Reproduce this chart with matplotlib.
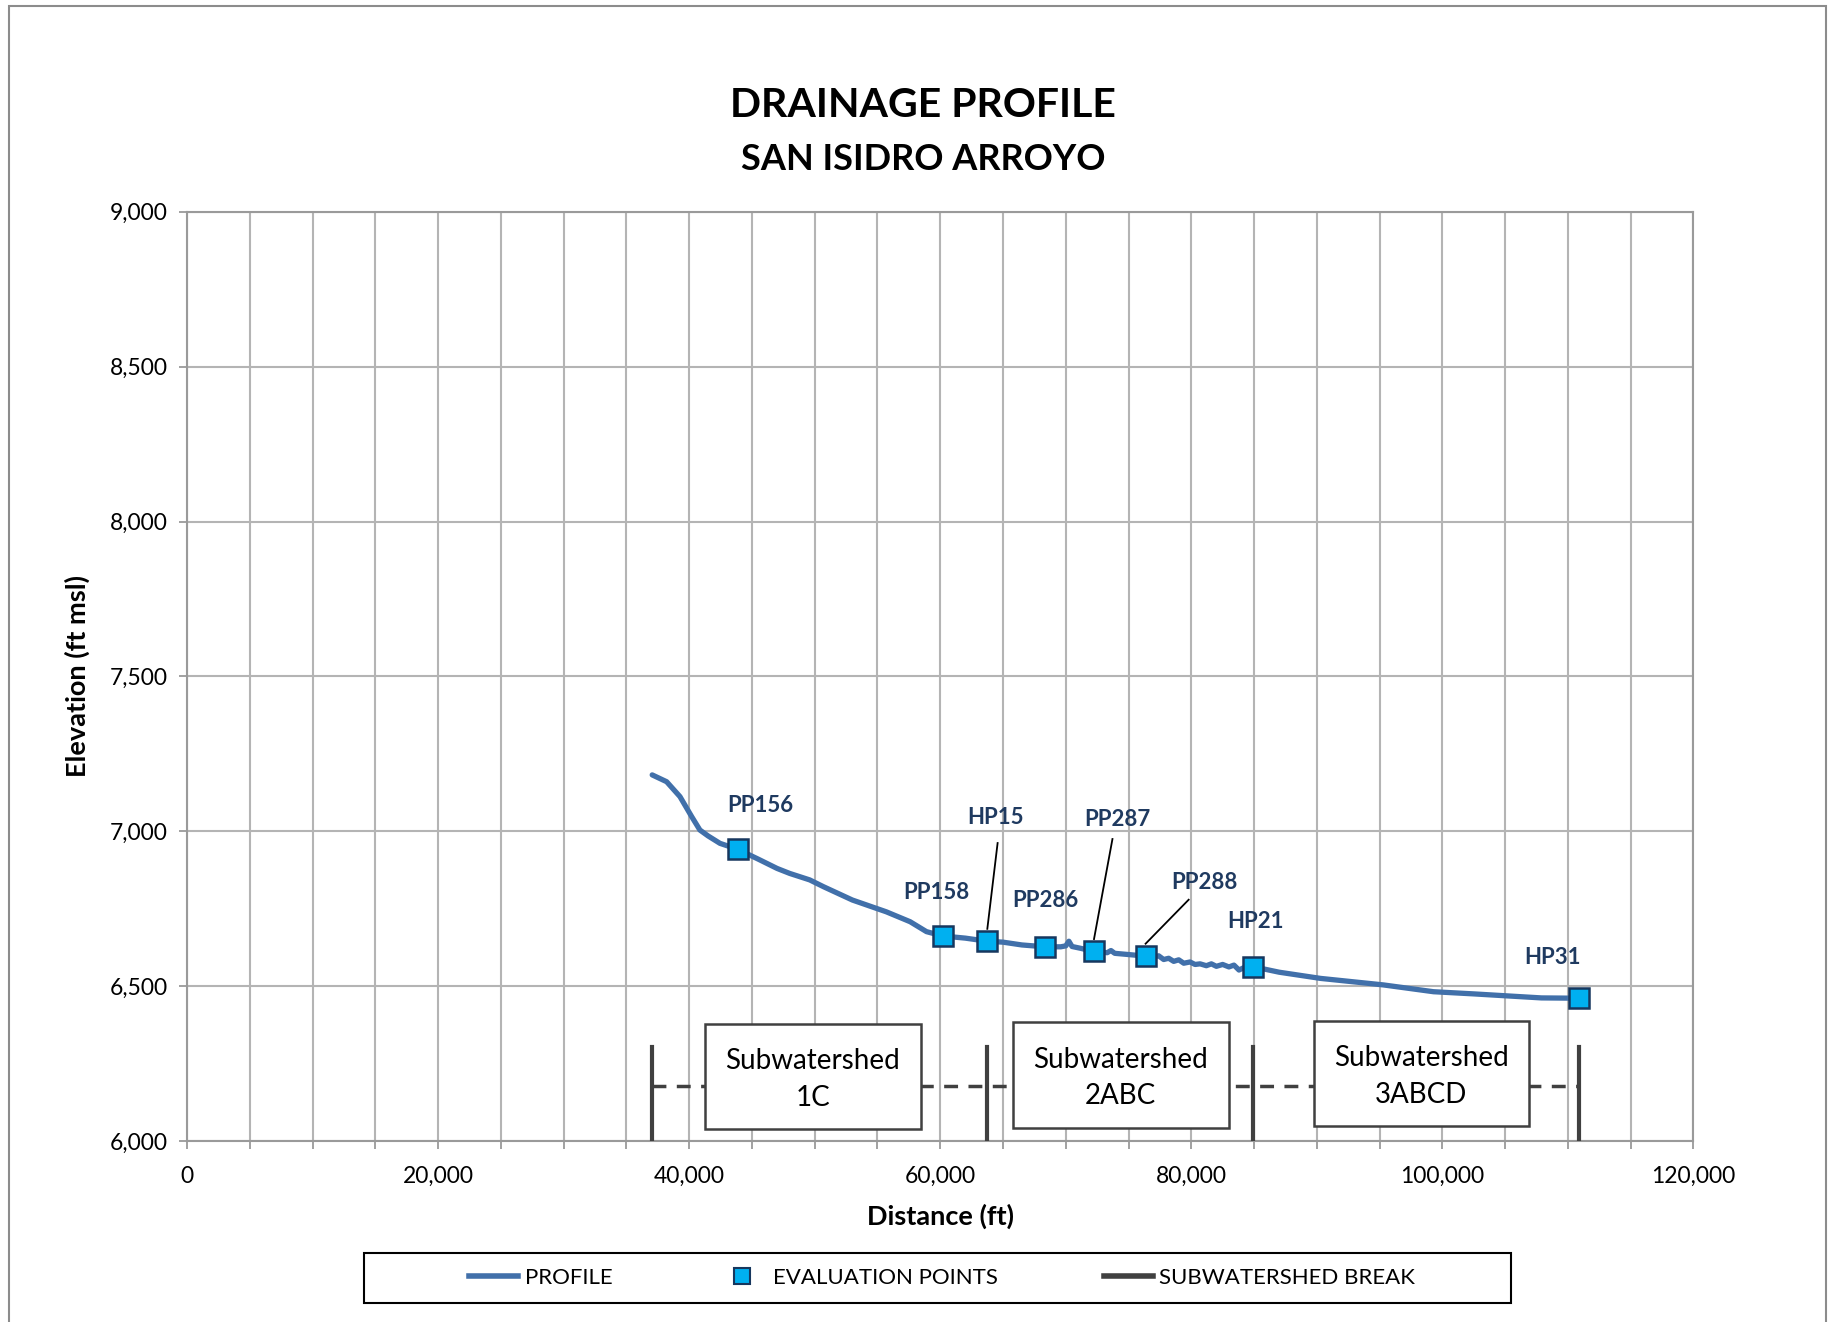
import matplotlib
matplotlib.use("Agg")
import matplotlib.pyplot as plt
from matplotlib.patches import Rectangle
from matplotlib.lines import Line2D
from matplotlib.ticker import MultipleLocator, FuncFormatter

plt.rcParams["font.family"] = ["Lato", "DejaVu Sans"]

# Stream profile (distance ft, elevation ft msl)
PROFILE_X = [37050, 38200, 39260, 40200, 40850, 41500, 42450, 43850, 45500, 47000,
             48000, 49600, 50700, 53000, 55700, 57600, 58900, 60190, 62000, 63750,
             65000, 66500, 68340, 69600, 70000, 70250, 70500, 71200, 72250, 73300,
             73600, 73900, 75000, 76360, 77000, 77400, 77800, 78200, 78600, 79000,
             79400, 79900, 80300, 80700, 81200, 81600, 82000, 82500, 83000, 83400,
             83800, 84200, 84900, 87000, 90300, 95300, 99300, 102500, 105400, 107900,
             110900]
PROFILE_Y = [7182, 7160, 7112, 7047, 7004, 6985, 6961, 6942, 6910, 6880,
             6864, 6843, 6821, 6778, 6740, 6708, 6676, 6662, 6655, 6645,
             6642, 6633, 6627, 6627, 6630, 6645, 6628, 6622, 6612, 6608,
             6615, 6606, 6602, 6597, 6594, 6598, 6586, 6590, 6580, 6585,
             6574, 6578, 6570, 6572, 6566, 6572, 6564, 6570, 6562, 6568,
             6552, 6560, 6563, 6545, 6525, 6504, 6482, 6475, 6468, 6462,
             6461]

# Evaluation points
EVAL_NAMES = ["PP156", "PP158", "HP15", "PP286", "PP287", "PP288", "HP21", "HP31"]
EVAL_X = [43850, 60190, 63750, 68340, 72250, 76360, 84900, 110900]
EVAL_Y = [6942, 6662, 6645, 6627, 6612, 6597, 6563, 6461]
LABEL_X = [45690, 59670, 64430, 68345, 74130, 81020, 85130, 108810]
LABEL_Y = [7084, 6801, 7043, 6778, 7039, 6835, 6710, 6593]
LEADERS = {"HP15": (64570, 6962), "PP287": (73720, 6975), "PP288": (79790, 6779)}

# Subwatershed breaks and boxes
BREAK_X = [37050, 63750, 84900, 110900]
BREAK_TOP = 6305
DASH_Y = 6178
SUB_NAMES = ["Subwatershed\n1C", "Subwatershed\n2ABC", "Subwatershed\n3ABCD"]
SUB_X = [49855, 74380, 98340]
SUB_Y = [6208, 6213, 6218]

BLUE = "#4170AA"
NAVY = "#1F3A60"
DARK = "#404040"
GRID = "#B4B4B4"

fig = plt.figure(figsize=(18.35, 13.22), dpi=100)
ax = fig.add_axes([0.102, 0.1369, 0.8208, 0.7029])

# outer border (bottom edge is off the picture)
fig.patches.append(Rectangle((0.0051, -0.1), 0.9898, 1.0955, transform=fig.transFigure,
                             fill=False, edgecolor="#8C8C8C", linewidth=1.5))

ax.plot(PROFILE_X, PROFILE_Y, color=BLUE, linewidth=3.8, solid_capstyle="round",
        solid_joinstyle="round", zorder=3)
ax.plot(EVAL_X, EVAL_Y, linestyle="none", marker="s", markersize=14,
        markerfacecolor="#00B0F0", markeredgecolor="#17375E", markeredgewidth=1.8, zorder=4)

for name, lx, ly, px, py in zip(EVAL_NAMES, LABEL_X, LABEL_Y, EVAL_X, EVAL_Y):
    ax.text(lx, ly, name, ha="center", va="center", fontsize=16, fontweight="bold",
            color=NAVY, zorder=5)
    if name in LEADERS:
        sx, sy = LEADERS[name]
        ax.plot([sx, px], [sy, py + 40], color="black", linewidth=1.3, zorder=5)

# subwatershed breaks
ax.plot([BREAK_X[0], BREAK_X[-1]], [DASH_Y, DASH_Y], color=DARK, linewidth=2.5,
        linestyle=(0, (4, 3)), zorder=2)
for bx in BREAK_X:
    ax.plot([bx, bx], [6000, BREAK_TOP], color=DARK, linewidth=3, zorder=3)
for name, cx, cy in zip(SUB_NAMES, SUB_X, SUB_Y):
    ax.add_patch(Rectangle((cx - 8600, cy - 170), 17200, 340, facecolor="white",
                           edgecolor=DARK, linewidth=1.8, zorder=4))
    ax.text(cx, cy - 10, name, ha="center", va="center", fontsize=20, linespacing=1.5,
            color="black", zorder=5)

ax.set_xlim(0, 120000)
ax.set_ylim(6000, 9000)
ax.xaxis.set_major_locator(MultipleLocator(20000))
ax.xaxis.set_minor_locator(MultipleLocator(5000))
ax.yaxis.set_major_locator(MultipleLocator(500))
fmt = FuncFormatter(lambda v, p: f"{int(v):,}")
ax.xaxis.set_major_formatter(fmt)
ax.yaxis.set_major_formatter(fmt)
ax.grid(True, which="both", color=GRID, linewidth=1.5, zorder=0)
ax.set_axisbelow(True)
for s in ax.spines.values():
    s.set_color("#9A9A9A")
    s.set_linewidth(1.5)
ax.tick_params(which="both", direction="out", length=6, color="#9A9A9A", width=1.3,
               labelsize=16.5, pad=8)
ax.tick_params(axis="x", pad=12)

ax.set_xlabel("Distance (ft)", fontsize=19.5, fontweight="bold", labelpad=12)
ax.set_ylabel("Elevation (ft msl)", fontsize=19.5, fontweight="bold", labelpad=14)

fig.text(0.503, 0.9205, "DRAINAGE PROFILE", ha="center", va="center", fontsize=29.5,
         fontweight="bold")
fig.text(0.503, 0.8795, "SAN ISIDRO ARROYO", ha="center", va="center", fontsize=26,
         fontweight="bold")

handles = [
    Line2D([], [], color=BLUE, linewidth=4),
    Line2D([], [], linestyle="none", marker="s", markersize=11,
           markerfacecolor="#00B0F0", markeredgecolor="#17375E", markeredgewidth=1.5),
    Line2D([], [], color=DARK, linewidth=4),
]
fig.legend(handles, ["PROFILE", "EVALUATION POINTS", "SUBWATERSHED BREAK"],
           loc="center", bbox_to_anchor=(0.5135, 0.0333), ncol=3, fontsize=16,
           frameon=False, columnspacing=4.75, handlelength=2.2, handletextpad=0.3)
# legend frame
fig.patches.append(Rectangle((0.1984, 0.0147), 0.625, 0.0372, transform=fig.transFigure,
                             fill=False, edgecolor="black", linewidth=1.5))

fig.savefig("out.png", dpi=100)
